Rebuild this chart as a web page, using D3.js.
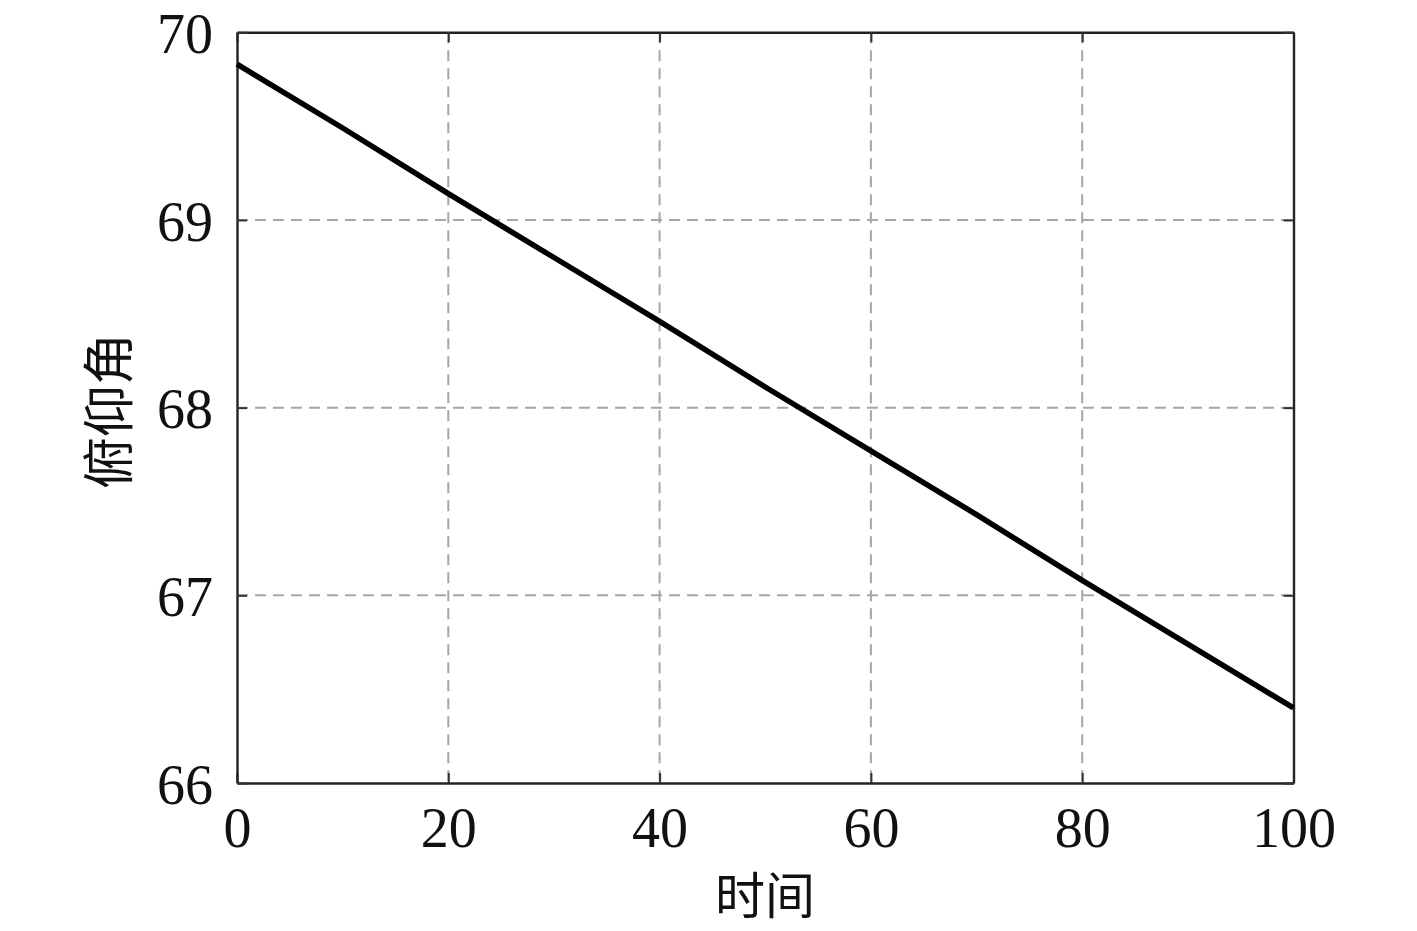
<!DOCTYPE html>
<html><head><meta charset="utf-8">
<script src="https://cdn.jsdelivr.net/npm/d3@7"></script>
<style>body{margin:0;background:#fff}svg{display:block}</style>
</head><body>
<script>
const timeValues = [0, 10, 20, 30, 40, 50, 60, 70, 80, 90, 100];
const pitchValues = [69.83, 69.49, 69.14, 68.80, 68.46, 68.11, 67.77, 67.43, 67.08, 66.74, 66.40];
const xTicks = [0, 20, 40, 60, 80, 100];
const yTicks = [66, 67, 68, 69, 70];
const xLabel = "时间";
const yLabel = "俯仰角";

const W = 1417, H = 931;
const m = {left: 237, right: 1293.5, top: 32.3, bottom: 783};
const svg = d3.select("body").append("svg").attr("width", W).attr("height", H);
const x = d3.scaleLinear().domain([0, 100]).range([m.left, m.right]);
const y = d3.scaleLinear().domain([66, 70]).range([m.bottom, m.top]);
const serif = "'Liberation Serif','Times New Roman',serif";

// grid
const grid = svg.append("g").attr("stroke", "#a6a6a6").attr("stroke-width", 2).attr("stroke-dasharray", "11,7");
grid.selectAll(".gx").data(xTicks.slice(1, -1)).join("line")
  .attr("x1", d => x(d)).attr("x2", d => x(d)).attr("y1", m.top).attr("y2", m.bottom);
grid.selectAll(".gy").data(yTicks.slice(1, -1)).join("line")
  .attr("x1", m.left).attr("x2", m.right).attr("y1", d => y(d)).attr("y2", d => y(d));

// axes (inward ticks)
const tl = 10;
const fmt = d3.format("d");
const axB = svg.append("g").attr("transform", `translate(0,${m.bottom})`)
  .call(d3.axisBottom(x).tickValues(xTicks).tickFormat(fmt).tickSize(-tl).tickPadding(24).tickSizeOuter(0));
const axT = svg.append("g").attr("transform", `translate(0,${m.top})`)
  .call(d3.axisTop(x).tickValues(xTicks).tickSize(-tl).tickFormat("").tickSizeOuter(0));
const axL = svg.append("g").attr("transform", `translate(${m.left},0)`)
  .call(d3.axisLeft(y).tickValues(yTicks).tickFormat(fmt).tickSize(-tl).tickPadding(24).tickSizeOuter(0));
const axR = svg.append("g").attr("transform", `translate(${m.right},0)`)
  .call(d3.axisRight(y).tickValues(yTicks).tickSize(-tl).tickFormat("").tickSizeOuter(0));
[axB, axT, axL, axR].forEach(a => {
  a.select(".domain").attr("stroke", "#222").attr("stroke-width", 2.4);
  a.selectAll(".tick line").attr("stroke", "#333").attr("stroke-width", 2);
  a.selectAll("text").attr("font-family", serif).attr("font-size", 56).attr("fill", "#111");
});
axB.selectAll("text").attr("dy", "0.71em");
axL.selectAll("text").attr("dy", "0.36em");

// line
svg.append("path").datum(timeValues.map((t, i) => [t, pitchValues[i]]))
  .attr("fill", "none").attr("stroke", "#000").attr("stroke-width", 5.5)
  .attr("d", d3.line().x(d => x(d[0])).y(d => y(d[1])));

// labels
svg.append("text").attr("x", 765).attr("y", 914)
  .attr("text-anchor", "middle").attr("font-family", "'Noto Sans CJK SC',sans-serif")
  .attr("font-size", 50).attr("fill", "#111").text(xLabel);
svg.append("text").attr("transform", `translate(128,411) rotate(-90)`)
  .attr("text-anchor", "middle").attr("font-family", "'Noto Sans CJK SC',sans-serif")
  .attr("font-size", 52).attr("fill", "#111").text(yLabel);
</script>
</body></html>
